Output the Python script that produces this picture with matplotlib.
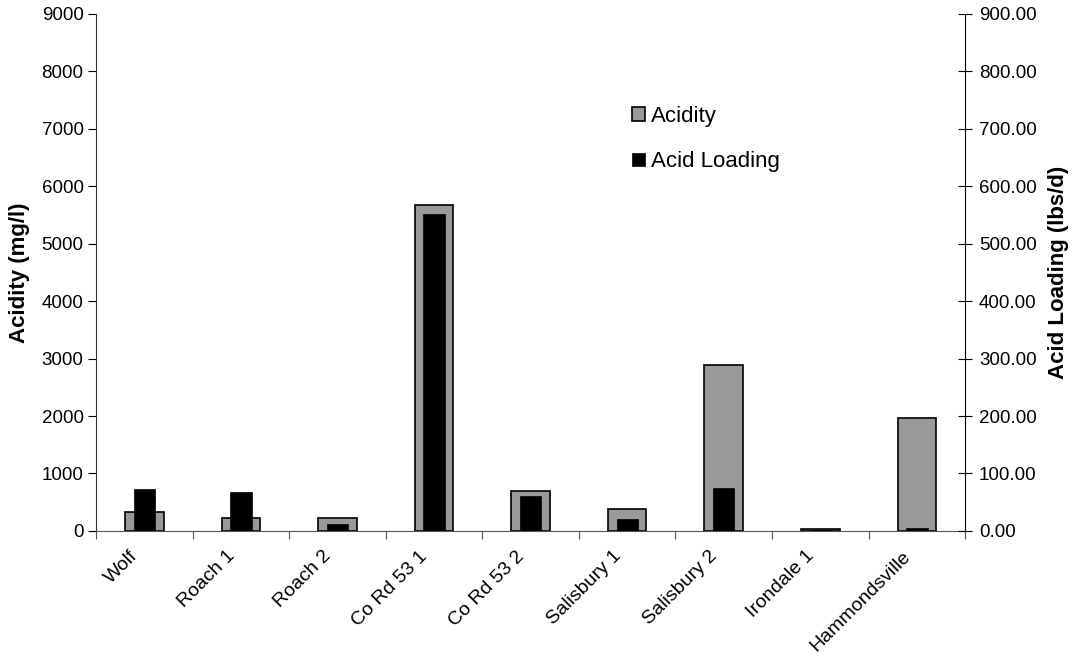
import numpy as np
import matplotlib.pyplot as plt
from matplotlib.ticker import FormatStrFormatter
from matplotlib.transforms import ScaledTranslation

plt.rcParams['font.family'] = ['Liberation Sans', 'DejaVu Sans']

sites = ['Wolf', 'Roach 1', 'Roach 2', 'Co Rd 53 1', 'Co Rd 53 2',
         'Salisbury 1', 'Salisbury 2', 'Irondale 1', 'Hammondsville']
acidity = [335, 233, 233, 5680, 697, 390, 2880, 25, 1958]          # mg/l
acid_loading = [73, 67, 12, 552, 61, 20, 75.5, 1.5, 5.5]           # lbs/d

x = np.arange(len(sites))

fig = plt.figure(figsize=(10.73, 6.62), dpi=100)
ax = fig.add_axes([0.0895, 0.198, 0.81, 0.781])
ax2 = ax.twinx()

b1 = ax.bar(x, acidity, width=0.40, color='#999999', edgecolor='black',
            linewidth=1.2, label='Acidity', zorder=2)
b2 = ax2.bar(x, acid_loading, width=0.22, color='black', edgecolor='black',
             linewidth=0.5, label='Acid Loading', zorder=3)

ax.set_xlim(-0.5, len(sites) - 0.5)
ax.set_ylim(0, 9000)
ax2.set_ylim(0, 900)
ax.set_yticks(np.arange(0, 9001, 1000))
ax2.set_yticks(np.arange(0, 901, 100))
ax2.yaxis.set_major_formatter(FormatStrFormatter('%.2f'))

# category ticks sit between the bars
ax.set_xticks(np.arange(-0.5, len(sites), 1.0))
ax.set_xticklabels([])
ax.set_xticks(x, minor=True)
ax.set_xticklabels(sites, minor=True, rotation=45, ha='right', va='top',
                   rotation_mode='anchor', fontsize=14)
ax.tick_params(axis='x', which='minor', length=0, pad=12)
ax.tick_params(axis='x', which='major', length=6, direction='out',
               color='#555555')
shift = ScaledTranslation(-0.15, 0, fig.dpi_scale_trans)
for lbl in ax.get_xticklabels(minor=True):
    lbl.set_transform(lbl.get_transform() + shift)

ax.tick_params(axis='y', labelsize=13.5, length=6, direction='out', pad=3)
ax2.tick_params(axis='y', labelsize=13.5, length=10, direction='inout', pad=5)

for a in (ax, ax2):
    a.spines['top'].set_visible(False)
ax.spines['right'].set_visible(False)
ax.spines['bottom'].set_color('#555555')
ax.spines['left'].set_color('#333333')
ax2.spines['left'].set_visible(False)
ax2.spines['bottom'].set_visible(False)

ax.set_ylabel('Acidity (mg/l)', fontsize=16, fontweight='bold', labelpad=8)
ax2.set_ylabel('Acid Loading (lbs/d)', fontsize=16, fontweight='bold',
               labelpad=8)

leg = ax2.legend([b1, b2], ['Acidity', 'Acid Loading'], loc='center left',
                 bbox_to_anchor=(0.594, 0.758), frameon=False, fontsize=16,
                 handlelength=0.55, handleheight=0.55, handletextpad=0.3,
                 labelspacing=1.1)

fig.savefig('out.png', dpi=100)
